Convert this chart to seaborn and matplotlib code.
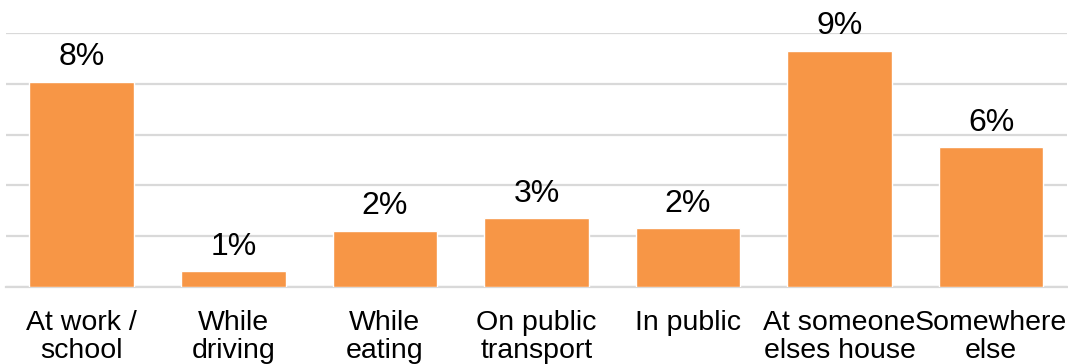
import matplotlib
matplotlib.use("Agg")
import matplotlib.pyplot as plt
import seaborn as sns
import pandas as pd

categories = ["At work /\nschool", "While\ndriving", "While\neating", "On public\ntransport",
              "In public", "At someone\nelses house", "Somewhere\nelse"]
values = [8.1, 0.6, 2.2, 2.7, 2.3, 9.3, 5.5]
value_labels = ["8%", "1%", "2%", "3%", "2%", "9%", "6%"]
grid_ticks = [0, 2, 4, 6, 8, 10]

sns.set_theme(style="white")
plt.rcParams['font.family'] = ['Liberation Sans', 'DejaVu Sans']

df = pd.DataFrame({"cat": categories, "val": values})

fig = plt.figure(figsize=(10.68, 3.64), dpi=100)
ax = fig.add_axes([0.0056, 0.2124, 0.9934, 0.6956])
sns.barplot(data=df, x="cat", y="val", color="#F79646", saturation=1, width=0.69, ax=ax, zorder=3)

ax.set_ylim(0, 10)
ax.set_xlim(-0.5, 6.5)
ax.set_yticks(grid_ticks)
ax.set_yticklabels([])
ax.yaxis.grid(True, color="#D9D9D9", linewidth=1.6, zorder=0)
ax.set_axisbelow(True)
for s in ["left", "right", "top"]:
    ax.spines[s].set_visible(False)
ax.spines["bottom"].set_color("#D9D9D9")
ax.spines["bottom"].set_linewidth(1.6)
ax.tick_params(axis="x", length=0, pad=17, labelsize=20.5, labelcolor="black")
ax.tick_params(axis="y", length=0)
ax.set_xlabel("")
ax.set_ylabel("")
for t in ax.get_xticklabels():
    t.set_linespacing(1.1)

ax.bar_label(ax.containers[0], labels=value_labels, padding=7, fontsize=23, color="black")

fig.savefig("out.png", dpi=100)
